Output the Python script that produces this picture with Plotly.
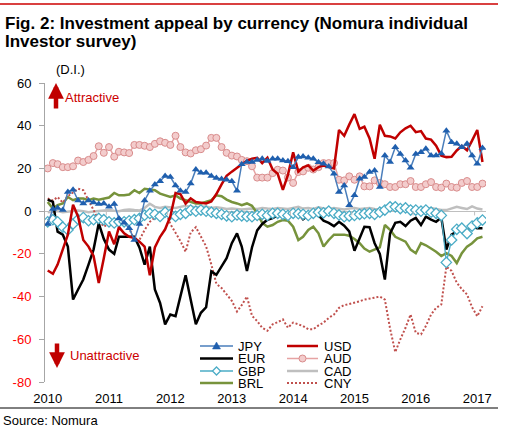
import plotly.graph_objects as go
import pandas as pd

# ---------------- data ----------------
months = pd.date_range("2010-01-01", periods=86, freq="MS")
year_ticks = [f"{y}-01-01" for y in range(2010, 2018)]
year_labels = [str(y) for y in range(2010, 2018)]
y_ticks = [-80, -60, -40, -20, 0, 20, 40, 60]

jpy = [-6, 1, 1.5, 0.5, 9, 10, 5, 3.6, 5, 4,
       3.3, 3.6, 2, 3.3, -3.4, -5.4, -8, -13.5, -6, 5,
       9.5, 12.5, 14, 16.5, 16, 12, 9.5, 9, 12.9, 19.5,
       18, 18, 16.5, 15.5, 15, 14.7, 14, 9.5, 22, 23,
       23, 24, 24.5, 23.5, 24.5, 24.5, 23.7, 23.4, 20.6, 25.3,
       25.6, 25, 24.5, 22.9, 22.2, 20.9, 17.5, 9, 12, 2.8,
       7.4, 15.2, 16, 18.3, 19, 11.3, 26, 23, 29.9, 26.8,
       23.7, 20.3, 26.8, 27.6, 29.2, 26, 26, 27, 37.7, 32.2,
       31.5, 29.9, 31.5, 26, 22.2, 29.6]

usd = [-27.8, -29.3, -25, -18, -11, 3, -2.6, -13.5, -16.6, -21,
       -33.6, -22, -9.5, -15.5, -7.5, -10.4, -12, -12.5, -14.3, -16.6,
       -30, -17, -12, -8.5, -2.5, 8.5, 8, 3.5, 6, 4.3,
       4, 3.6, 4.5, 8, 12.5, 16.5, 18.5, 20.5, 22, 23.5,
       24.5, 25, 22.5, 25, 19.5, 17.5, 10, 17, 27.6, 18.5,
       20.5, 21.4, 19, 20.6, 21.4, 20.6, 20, 38, 35.3, 40.5,
       45.4, 38.5, 39.5, 34, 24.5, 40.5, 35.3, 35, 34, 36.9,
       38.8, 40, 37, 37.5, 34, 33.5, 30.7, 26, 25.3, 25.5,
       28.4, 30.5, 28.5, 33, 38, 23]

eur = [5.4, 4.3, -9.6, -11, -16.6, -41.4, -36.7, -32, -25, -18,
       -5.7, -13, -18, -20, -12, -12, -12, -12, -17, -25,
       -16.6, -36.7, -43, -53, -48.4, -49.2, -39.9, -30, -41.4, -53,
       -47.6, -45, -28.2, -29.8, -25.9, -22, -15, -10.4, -16.6, -28,
       -17, -9, -6, -4, -3.2, -2, -1.8, -1.5, -1.2, -1.1,
       -3.8, -1.9, -1.1, -2, -4.5, -5.5, -7, -5, -6.8, -9.5,
       -18.5, -12.5, -7.3, -7.5, -15, -20, -32, -10.4, -5.5, -5,
       -7, -4.5, -3.2, -6.5, -2.6, -4, -5, -3, -18, -11,
       -9.6, -7.5, -9.6, -7.3, -8, -8]

aud = [20, 22.5, 22, 20.6, 20.6, 21, 23.7, 23, 24, 25.8,
       30.4, 27.3, 30, 25.5, 27.8, 27.5, 27.2, 31, 31, 30.6,
       30, 31.5, 32.7, 32, 31, 35.3, 30, 27.5, 27, 28.5,
       29, 30.7, 34.3, 34.3, 30, 27.3, 26, 25.6, 24, 23.4,
       21, 15.7, 15.7, 15.7, 17.8, 19.4, 19, 15.7, 13.2, 18.3,
       18.6, 20.3, 19.5, 20.6, 22.5, 22.5, 22.5, 14.7, 14.4, 16.3,
       14.7, 16.3, 11.6, 11.6, 14.4, 13.2, 12.6, 11.3, 11.3, 12.6,
       12.6, 14.1, 11.3, 11.3, 12.6, 13.6, 11.3, 11, 12.9, 11.3,
       11, 13.2, 14.1, 11.3, 11.3, 12.9]

gbp = [-5, -4, -5, -7.5, -8.8, -6, -3.8, -3, -4.5, -4,
       -3.4, -4, -5, -5.5, -5, -5, -4.5, -4, -3.4, -1.9,
       -1.1, -1.5, -2.5, -0.5, -1.5, -2.5, -1.5, -1, 0.5, 0,
       0.5, 0, -0.5, -1, -1.5, -2.2, -2.6, -1.8, -2.2, -2.5,
       -2.6, -2, -1.5, -2, -1, -1, -1.5, -2, -1, -1.2,
       -1.5, -2, -1, -0.5, -0.8, 0, -1, -1.8, -2.6, -2.3,
       -2, -1.5, -1.2, -1, -1.5, -0.5, 0.5, 2, 2, 1.2,
       1.5, 0.5, 0.5, 0, 0.5, -0.5, -1, -2, -24, -13.5,
       -8.5, -8, -10.5, -7, -5.5, -4.2]

cad = [-0.5, -0.3, 0, -0.5, -0.2, 0, 0.3, 0, -0.5, -0.2,
       0, 0.3, 0.5, 0.2, 0, 0.5, 0.8, 0.5, 0.3, 1.5,
       3.5, 2, 1.5, 2, 1.8, 1.5, 2, 2.5, 2, 1.8,
       2, 2.2, 1.5, 1.8, 1.5, 1, 1.2, 1, 0.8, 1,
       1.2, 1, 1.5, 1.2, 1, 1.5, 1.2, 1, 1.5, 2,
       1.2, 1.5, 1, 1.8, 1.2, 1, 1.5, 1, 0.8, 1.2,
       1.5, 1, 1.2, 1.5, 1, 0.8, 1.5, 1.2, 1, 1.2,
       1.5, 1, 0.8, 1.2, 1, 1.5, 1, 0.5, 0.5, 1.2,
       2, 1.5, 1, 2.2, 1.2, 0.8]

brl = [4.3, 1.2, 2.8, 3.6, 6.6, 5.1, 5.9, 5.9, 5.1, 5.9,
       5.4, 5.9, 6.4, 8.5, 7.4, 7.4, 7.8, 9.8, 8.5, 10.5,
       10, 9.8, 8.2, 7.5, 6.6, 7.4, 5.9, 5.1, 4.3, 3.6,
       3.6, 4.5, 5.1, 7.4, 7, 5.4, 4.3, 3.6, 2.8, 3.6,
       2.5, -1, -5.5, -7.3, -6.5, -5, -4.2, -4.5, -7.3, -13.5,
       -12, -8.8, -7.3, -10.4, -16.6, -13.5, -11, -11, -11, -11.5,
       -13, -15, -17.5, -19, -18, -17, -6.5, -8.8, -12, -13,
       -14.3, -18, -19.7, -15, -16, -17.5, -19, -21, -19.7, -21,
       -24.3, -19.7, -16.6, -15, -12.7, -12]

cny = [6, 5, 6.6, 4, 7, 9, 10.5, 9.8, 5.1, 0.5,
       -4.2, -7.3, -5.7, -6.5, -5.5, -5, -8, -13.5, -13.5, -8.8,
       -5, -3, -1, 0.5, -6, -10, -14, -19, -10, -7.5,
       -12, -16.5, -25, -34, -36, -39, -42, -47, -44, -40,
       -49, -51.5, -54.6, -56, -53, -52, -50.7, -54.6, -52.2, -53,
       -53.8, -55.3, -55.3, -53.5, -52.2, -50, -48.4, -45.3, -44, -43.5,
       -43, -42.2, -41.4, -40.8, -40.5, -40, -41.4, -55, -66, -60,
       -54.6, -48.4, -57, -57.7, -53.8, -48.4, -45.3, -43.7, -26, -28,
       -33.5, -36.5, -39, -45, -49.2, -44.5]

# ---------------- geometry helpers ----------------
W, H = 508, 427
L, R, T, B = 45, 22, 83, 45
PW = W - L - R
PH = H - T - B


def px(x):
    return (x - L) / PW


def py(y):
    return (H - B - y) / PH


FONT = "Liberation Sans, Arial, sans-serif"
C_JPY_L, C_JPY_M = "#4a7ebb", "#1f5fae"
C_USD = "#c00000"
C_EUR = "#000000"
C_AUD_L, C_AUD_F, C_AUD_O = "#e6a3a3", "#f3cccc", "#d98c8c"
C_GBP = "#4bacc6"
C_CAD = "#bfbfbf"
C_BRL = "#77933c"
C_CNY = "#c0504d"

fig = go.Figure()
fig.add_trace(go.Scatter(x=months, y=cad, name="CAD", mode="lines",
                         line=dict(color=C_CAD, width=2.5)))
fig.add_trace(go.Scatter(x=months, y=brl, name="BRL", mode="lines",
                         line=dict(color=C_BRL, width=2.5)))
fig.add_trace(go.Scatter(x=months, y=cny, name="CNY", mode="lines",
                         line=dict(color=C_CNY, width=2, dash="2px,2px")))
fig.add_trace(go.Scatter(x=months, y=aud, name="AUD", mode="lines+markers",
                         line=dict(color=C_AUD_L, width=1.5),
                         marker=dict(symbol="circle", size=7, color=C_AUD_F,
                                     line=dict(color=C_AUD_O, width=1))))
fig.add_trace(go.Scatter(x=months, y=eur, name="EUR", mode="lines",
                         line=dict(color=C_EUR, width=2.5)))
fig.add_trace(go.Scatter(x=months, y=gbp, name="GBP", mode="lines+markers",
                         line=dict(color=C_GBP, width=1.3),
                         marker=dict(symbol="diamond", size=8, color="white",
                                     line=dict(color=C_GBP, width=1.3))))
fig.add_trace(go.Scatter(x=months, y=usd, name="USD", mode="lines",
                         line=dict(color=C_USD, width=2.5)))
fig.add_trace(go.Scatter(x=months, y=jpy, name="JPY", mode="lines+markers",
                         line=dict(color=C_JPY_L, width=1.5),
                         marker=dict(symbol="triangle-up", size=7, color=C_JPY_M)))

y_text = [f'<span style="color:#ff0000">{v}</span>' if v < 0 else str(v) for v in y_ticks]

fig.update_layout(
    width=W, height=H,
    margin=dict(l=L, r=R, t=T, b=B, pad=0),
    paper_bgcolor="white", plot_bgcolor="white",
    showlegend=False,
    font=dict(family=FONT, size=13, color="black"),
    hovermode=False,
)
fig.update_xaxes(type="date", range=["2009-12-16", "2017-02-22"],
                 tickvals=year_ticks, ticktext=year_labels,
                 showgrid=False, showline=False, zeroline=False,
                 ticks="outside", ticklen=4, tickcolor="rgba(0,0,0,0)",
                 tickfont=dict(size=13, color="black"))
fig.update_yaxes(range=[-80, 60], tickvals=y_ticks, ticktext=y_text,
                 showgrid=False, zeroline=True, zerolinecolor=C_CAD, zerolinewidth=1,
                 showline=True, linecolor="#a6a6a6", linewidth=1,
                 ticks="outside", ticklen=5, tickcolor="#a6a6a6",
                 ticklabelstandoff=5, tickfont=dict(size=13, color="black"))

shapes = []
# header / footer rules
shapes.append(dict(type="line", xref="paper", yref="paper", x0=px(0), x1=px(498),
                   y0=py(4), y1=py(4), line=dict(color="#cc0000", width=1.5)))
shapes.append(dict(type="line", xref="paper", yref="paper", x0=px(0), x1=px(498),
                   y0=py(408), y1=py(408), line=dict(color="black", width=1)))
# category tick marks on the zero axis
for y in range(2011, 2018):
    shapes.append(dict(type="line", xref="x", yref="y",
                       x0=f"{y - 1}-12-16", x1=f"{y - 1}-12-16", y0=0, y1=-2,
                       line=dict(color=C_CAD, width=1)))

# custom legend
rows = [346, 358.5, 371, 383]
c1 = (200, 233, 236)
c2 = (287, 318, 322)
legend_items = [
    (c1, rows[0], "JPY", dict(color=C_JPY_L, width=1.5), "tri"),
    (c1, rows[1], "EUR", dict(color=C_EUR, width=2.5), None),
    (c1, rows[2], "GBP", dict(color=C_GBP, width=1.3), "dia"),
    (c1, rows[3], "BRL", dict(color=C_BRL, width=2.5), None),
    (c2, rows[0], "USD", dict(color=C_USD, width=2.5), None),
    (c2, rows[1], "AUD", dict(color=C_AUD_L, width=1.5), "cir"),
    (c2, rows[2], "CAD", dict(color=C_CAD, width=2.5), None),
    (c2, rows[3], "CNY", dict(color=C_CNY, width=2, dash="2px,2px"), None),
]
annotations = []
for (xa, xb, xt), ry, label, ln, mk in legend_items:
    shapes.append(dict(type="line", xref="paper", yref="paper", x0=px(xa), x1=px(xb),
                       y0=py(ry), y1=py(ry), line=ln))
    xc = px((xa + xb) / 2)
    if mk == "tri":
        shapes.append(dict(type="path", xref="paper", yref="paper", xsizemode="pixel",
                           ysizemode="pixel", xanchor=xc, yanchor=py(ry),
                           path="M-4,-3L4,-3L0,4Z", fillcolor=C_JPY_M,
                           line=dict(color=C_JPY_M, width=0.5)))
    elif mk == "dia":
        shapes.append(dict(type="path", xref="paper", yref="paper", xsizemode="pixel",
                           ysizemode="pixel", xanchor=xc, yanchor=py(ry),
                           path="M0,4L4,0L0,-4L-4,0Z", fillcolor="white",
                           line=dict(color=C_GBP, width=1.3)))
    elif mk == "cir":
        shapes.append(dict(type="circle", xref="paper", yref="paper", xsizemode="pixel",
                           ysizemode="pixel", xanchor=xc, yanchor=py(ry),
                           x0=-3.5, x1=3.5, y0=-3.5, y1=3.5, fillcolor=C_AUD_F,
                           line=dict(color=C_AUD_O, width=1)))
    annotations.append(dict(text=label, xref="paper", yref="paper", x=px(xt), y=py(ry),
                            xanchor="left", yanchor="middle", showarrow=False,
                            font=dict(size=13, color="black")))

# title
annotations.append(dict(text="<b>Fig. 2: Investment appeal by currency (Nomura individual</b>",
                        xref="paper", yref="paper", x=px(3), y=py(23.5), xanchor="left",
                        yanchor="middle", showarrow=False, font=dict(size=17, color="black")))
annotations.append(dict(text="<b>Investor survey)</b>",
                        xref="paper", yref="paper", x=px(3), y=py(41), xanchor="left",
                        yanchor="middle", showarrow=False, font=dict(size=17, color="black")))
annotations.append(dict(text="(D.I.)", xref="paper", yref="paper", x=px(70), y=py(69.5),
                        xanchor="center", yanchor="middle", showarrow=False,
                        font=dict(size=13, color="black")))
annotations.append(dict(text="Attractive", xref="paper", yref="paper", x=px(63), y=py(98),
                        xanchor="left", yanchor="middle", showarrow=False,
                        font=dict(size=13, color="#cc0000")))
annotations.append(dict(text="Unattractive", xref="paper", yref="paper", x=px(68), y=py(355),
                        xanchor="left", yanchor="middle", showarrow=False,
                        font=dict(size=13, color="#cc0000")))
annotations.append(dict(text="Source: Nomura", xref="paper", yref="paper", x=px(1), y=py(420),
                        xanchor="left", yanchor="middle", showarrow=False,
                        font=dict(size=13, color="black")))
# arrows
annotations.append(dict(text="", xref="paper", yref="paper", x=px(56), y=py(83),
                        ax=0, ay=27, showarrow=True, arrowhead=2, arrowsize=0.7,
                        arrowwidth=4.5, arrowcolor=C_USD, standoff=0))
annotations.append(dict(text="", xref="paper", yref="paper", x=px(57), y=py(368),
                        ax=0, ay=-26, showarrow=True, arrowhead=2, arrowsize=0.7,
                        arrowwidth=4.5, arrowcolor=C_USD, standoff=0))

fig.update_layout(shapes=shapes, annotations=annotations)
fig.write_html("out.html", config={"displayModeBar": False},
               post_script="document.body.style.margin='0';document.body.style.overflow='hidden';")
